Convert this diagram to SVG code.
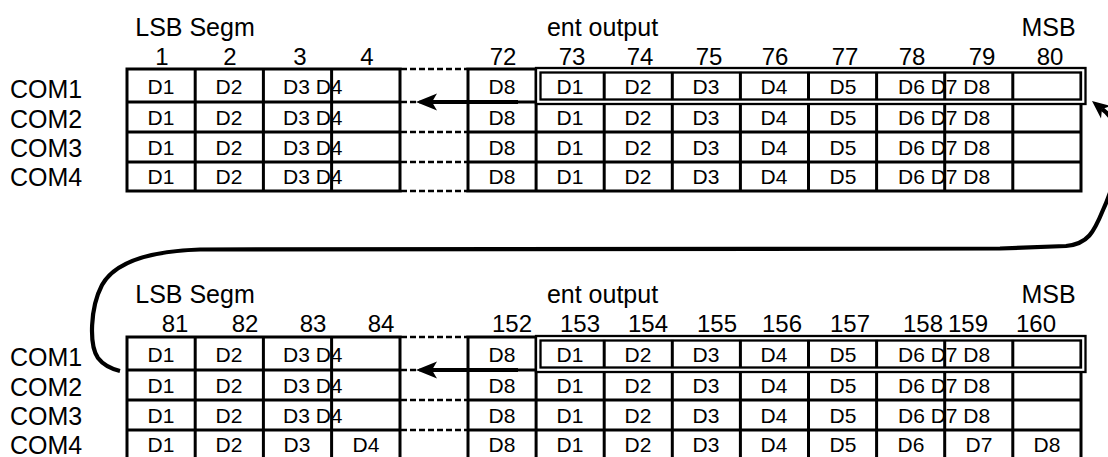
<svg xmlns="http://www.w3.org/2000/svg" xmlns:xlink="http://www.w3.org/1999/xlink" width="1108" height="457" viewBox="0 0 1108 457">
<style>
text{font-family:"Liberation Sans",Arial,sans-serif;fill:#000}
.lbl{font-size:25px}
.num{font-size:24px;text-anchor:middle}
.c{font-size:21px;text-anchor:middle}
.s{font-size:21px}
.grid{fill:none;stroke:#000;stroke-width:3;stroke-linecap:square}
.dash{fill:none;stroke:#000;stroke-width:2.3;stroke-dasharray:6 3}
.band{fill:none;stroke:#fff;stroke-width:3.4}
.box{fill:none;stroke:#000;stroke-width:2.3}
.conn{fill:none;stroke:#000;stroke-width:4.2}
.head{fill:#000;stroke:none}
</style>
<defs>
<g id="gridlines">
<path class="grid" d="M127 69H400M127 102H400M127 132H400M127 162H400M127 191H400M127 69V191M195.2 69V191M263.4 69V191M331.6 69V191M400 69V191"/>
<path class="grid" d="M468 69H1081M468 102H1081M468 132H1081M468 162H1081M468 191H1081M468 69V191M536.1 69V191M604.2 69V191M672.3 69V191M740.4 69V191M808.5 69V191M876.6 69V191M944.7 69V191M1012.8 69V191M1081 69V191"/>
<path class="dash" d="M401 69H467M401 102H467M401 132H467M401 162H467M401 191H467"/>
<rect class="band" x="538.2" y="70.2" width="545" height="31.6"/>
<rect class="box" x="536" y="68" width="549.5" height="36"/>
<rect class="box" x="540.5" y="72.5" width="540.5" height="27"/>
</g>
</defs>

<g id="top-segment">
<text class="lbl" x="195" y="36" text-anchor="middle">LSB Segm</text>
<text class="lbl" x="602.5" y="36" text-anchor="middle">ent output</text>
<text class="lbl" x="1048.5" y="36" text-anchor="middle">MSB</text>
<g class="num-row">
<text class="num" x="162" y="65">1</text><text class="num" x="230" y="65">2</text><text class="num" x="300" y="65">3</text><text class="num" x="367" y="65">4</text>
<text class="num" x="503" y="65">72</text><text class="num" x="572" y="65">73</text><text class="num" x="640" y="65">74</text><text class="num" x="709" y="65">75</text><text class="num" x="775" y="65">76</text><text class="num" x="845" y="65">77</text><text class="num" x="912" y="65">78</text><text class="num" x="982" y="65">79</text><text class="num" x="1050" y="65">80</text>
</g>
<text class="lbl" x="10" y="98">COM1</text>
<text class="lbl" x="10" y="128">COM2</text>
<text class="lbl" x="10" y="157">COM3</text>
<text class="lbl" x="10" y="186">COM4</text>
<g id="top-cells">
<text class="c" x="161" y="94">D1</text><text class="c" x="229" y="94">D2</text><text class="s" x="283" y="94">D3 D4</text><text class="c" x="502" y="94">D8</text><text class="c" x="570" y="94">D1</text><text class="c" x="638" y="94">D2</text><text class="c" x="706" y="94">D3</text><text class="c" x="774" y="94">D4</text><text class="c" x="843" y="94">D5</text><text class="s" x="898" y="94">D6 D7 D8</text>
<text class="c" x="161" y="124.5">D1</text><text class="c" x="229" y="124.5">D2</text><text class="s" x="283" y="124.5">D3 D4</text><text class="c" x="502" y="124.5">D8</text><text class="c" x="570" y="124.5">D1</text><text class="c" x="638" y="124.5">D2</text><text class="c" x="706" y="124.5">D3</text><text class="c" x="774" y="124.5">D4</text><text class="c" x="843" y="124.5">D5</text><text class="s" x="898" y="124.5">D6 D7 D8</text>
<text class="c" x="161" y="154.5">D1</text><text class="c" x="229" y="154.5">D2</text><text class="s" x="283" y="154.5">D3 D4</text><text class="c" x="502" y="154.5">D8</text><text class="c" x="570" y="154.5">D1</text><text class="c" x="638" y="154.5">D2</text><text class="c" x="706" y="154.5">D3</text><text class="c" x="774" y="154.5">D4</text><text class="c" x="843" y="154.5">D5</text><text class="s" x="898" y="154.5">D6 D7 D8</text>
<text class="c" x="161" y="184">D1</text><text class="c" x="229" y="184">D2</text><text class="s" x="283" y="184">D3 D4</text><text class="c" x="502" y="184">D8</text><text class="c" x="570" y="184">D1</text><text class="c" x="638" y="184">D2</text><text class="c" x="706" y="184">D3</text><text class="c" x="774" y="184">D4</text><text class="c" x="843" y="184">D5</text><text class="s" x="898" y="184">D6 D7 D8</text>
</g>
<use xlink:href="#gridlines" href="#gridlines"/>
</g>

<g id="bottom-segment">
<text class="lbl" x="195" y="303" text-anchor="middle">LSB Segm</text>
<text class="lbl" x="602.5" y="303" text-anchor="middle">ent output</text>
<text class="lbl" x="1048.5" y="303" text-anchor="middle">MSB</text>
<g class="num-row">
<text class="num" x="175" y="332">81</text><text class="num" x="245" y="332">82</text><text class="num" x="313" y="332">83</text><text class="num" x="381" y="332">84</text>
<text class="num" x="512" y="332">152</text><text class="num" x="580" y="332">153</text><text class="num" x="648" y="332">154</text><text class="num" x="717" y="332">155</text><text class="num" x="782" y="332">156</text><text class="num" x="850" y="332">157</text><text class="num" x="923" y="332">158</text><text class="num" x="968" y="332">159</text><text class="num" x="1036" y="332">160</text>
</g>
<text class="lbl" x="10" y="366">COM1</text>
<text class="lbl" x="10" y="396">COM2</text>
<text class="lbl" x="10" y="425">COM3</text>
<text class="lbl" x="10" y="454">COM4</text>
<g id="bottom-cells">
<text class="c" x="161" y="362">D1</text><text class="c" x="229" y="362">D2</text><text class="s" x="283" y="362">D3 D4</text><text class="c" x="502" y="362">D8</text><text class="c" x="570" y="362">D1</text><text class="c" x="638" y="362">D2</text><text class="c" x="706" y="362">D3</text><text class="c" x="774" y="362">D4</text><text class="c" x="843" y="362">D5</text><text class="s" x="898" y="362">D6 D7 D8</text>
<text class="c" x="161" y="392.5">D1</text><text class="c" x="229" y="392.5">D2</text><text class="s" x="283" y="392.5">D3 D4</text><text class="c" x="502" y="392.5">D8</text><text class="c" x="570" y="392.5">D1</text><text class="c" x="638" y="392.5">D2</text><text class="c" x="706" y="392.5">D3</text><text class="c" x="774" y="392.5">D4</text><text class="c" x="843" y="392.5">D5</text><text class="s" x="898" y="392.5">D6 D7 D8</text>
<text class="c" x="161" y="422.5">D1</text><text class="c" x="229" y="422.5">D2</text><text class="s" x="283" y="422.5">D3 D4</text><text class="c" x="502" y="422.5">D8</text><text class="c" x="570" y="422.5">D1</text><text class="c" x="638" y="422.5">D2</text><text class="c" x="706" y="422.5">D3</text><text class="c" x="774" y="422.5">D4</text><text class="c" x="843" y="422.5">D5</text><text class="s" x="898" y="422.5">D6 D7 D8</text>
<text class="c" x="161" y="452">D1</text><text class="c" x="229" y="452">D2</text><text class="c" x="297" y="452">D3</text><text class="c" x="366" y="452">D4</text><text class="c" x="502" y="452">D8</text><text class="c" x="570" y="452">D1</text><text class="c" x="638" y="452">D2</text><text class="c" x="706" y="452">D3</text><text class="c" x="774" y="452">D4</text><text class="c" x="843" y="452">D5</text><text class="c" x="911" y="452">D6</text><text class="c" x="979" y="452">D7</text><text class="c" x="1047" y="452">D8</text>
</g>
<use xlink:href="#gridlines" href="#gridlines" transform="translate(0,268)"/>
</g>

<g id="connectors">
<path class="conn" d="M518 102H430"/>
<path class="head" d="M416 102L437 93.5L432 102L437 110.5Z"/>
<path class="conn" d="M518 370H430"/>
<path class="head" d="M416 370L437 361.5L432 370L437 378.5Z"/>
<path class="conn" d="M1102 109C1125 125 1122 168 1103 210C1094 232 1088 244 1066 246L1000 248.5L200 249.5C150 251 115 262 102 285C90 308 89 345 98 358C104 366 112 369 120 371"/>
<path class="head" d="M1092 101L1111 106L1102 109L1101 118.5Z"/>
</g>
</svg>
